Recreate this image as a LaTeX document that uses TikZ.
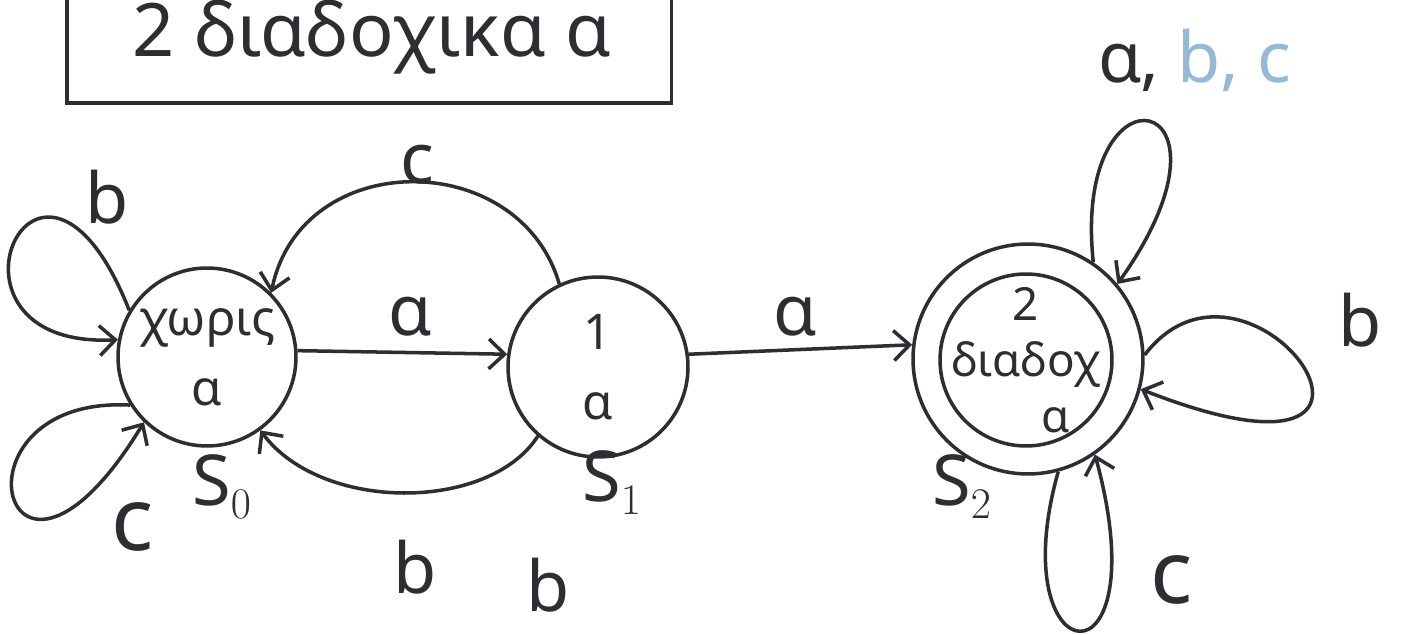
\documentclass[tikz,border=0pt]{standalone}
\usepackage{fontspec}
\setmainfont{Noto Sans}
\usetikzlibrary{arrows.meta}

\definecolor{penink}{RGB}{45,45,50}
\definecolor{faintink}{RGB}{150,185,215}

\tikzset{
  fsmstate/.style={circle, draw=penink, line width=2pt, inner sep=0pt},
  statetext/.style={text=penink, align=center, inner sep=0pt, font=\fontsize{28}{40}\selectfont},
  fsmedge/.style={draw=penink, line width=2pt, -{Straight Barb[length=9pt, width=17pt]}},
  edgelabel/.style={text=penink, inner sep=0pt, font=\fontsize{40}{40}\selectfont}
}

\begin{document}
\begin{tikzpicture}[x=0.02cm, y=0.02cm]
\useasboundingbox (0,0) rectangle (1401,635);
\fill[white] (0,0) rectangle (1401,635);

% title box, its top runs off the page
\begin{scope}
\clip (0,0) rectangle (1401,635);
\node[draw=penink, line width=2pt, minimum width=12.1cm, minimum height=3.4cm, anchor=south west] (title) at (65,530) {};
\end{scope}
\node[edgelabel, font=\fontsize{42}{42}\selectfont] (titletext) at (372,598) {2 διαδοχικα α};

% states
\node[fsmstate, minimum size=3.56cm, label={[statetext]center:{χωρις\\α}}] (s0) at (207,278) {};
\node[fsmstate, minimum size=3.6cm, label={[statetext]center:{1\\α}}] (s1) at (598,268) {};
\node[fsmstate, minimum size=3.44cm,
  label={[statetext, font=\fontsize{26}{32}\selectfont]center:{2\\διαδοχ\\\hspace*{1.2cm}α}}] (s2) at (1026,275) {};
\node[fsmstate, minimum size=4.6cm] (s2out) at (1028,276) {};

\node[edgelabel] (s0name) at (222,148) {S$_0$};
\node[edgelabel] (s1name) at (612,152) {S$_1$};
\node[edgelabel] (s2name) at (962,148) {S$_2$};

% transitions between states
\draw[fsmedge] (s0.4) -- (s1.172);
\draw[fsmedge] (s1.8) -- (s2out.173);
\draw[fsmedge] (s1.115) .. controls +(-40,137) and +(30,146) .. (s0.45);
\draw[fsmedge] (s1.229) .. controls +(-49,-76) and +(61,-82) .. (s0.306);

\node[edgelabel] (lab01) at (410,318) {α};
\node[edgelabel] (lab12) at (795,318) {α};
\node[edgelabel] (lab10c) at (417,470) {c};
\node[edgelabel] (lab10b) at (415,68) {b};

% self loops
\draw[fsmedge] (s0.149) .. controls +(-91,230) and +(-200,-10) .. (s0.169);
\draw[fsmedge] (s0.212) .. controls +(-190,10) and +(-140,-230) .. (s0.226);
\draw[fsmedge] (s2out.56) .. controls +(-22,209) and +(139,195) .. (s2out.40);
\draw[fsmedge] (s2out.2) .. controls +(107,140) and +(321,-126) .. (s2out.-15);
\draw[fsmedge] (s2out.-75) .. controls +(-58,-205) and +(66,-242) .. (s2out.-55);

\node[edgelabel] (lab00b) at (107,438) {b};
\node[edgelabel, font=\fontsize{50}{50}\selectfont] (lab00c) at (133,108) {c};
\node[edgelabel] (lab22top) at (1195,575) {α, \textcolor{faintink}{b, c}};
\node[edgelabel] (lab22b) at (1360,315) {b};
\node[edgelabel, font=\fontsize{50}{50}\selectfont] (lab22c) at (1172,55) {c};

% stray letter near the bottom edge
\node[edgelabel, anchor=south] (strayb) at (548,22) {b};
\end{tikzpicture}
\end{document}
